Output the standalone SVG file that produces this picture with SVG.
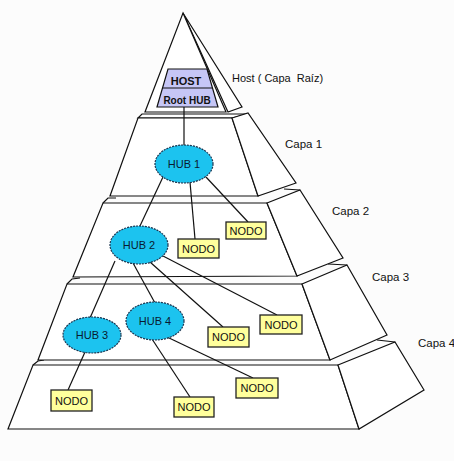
<svg xmlns="http://www.w3.org/2000/svg" width="454" height="461" viewBox="0 0 454 461">
<style>
.slab{fill:#ffffff;stroke:#111;stroke-width:1.2;stroke-linejoin:miter}
.ln{fill:none;stroke:#111;stroke-width:1.2}
.hub{fill:#1cc3ef;stroke:#1a3550;stroke-width:1.2;stroke-dasharray:2 1}
.nodo{fill:#ffff9c;stroke:#222;stroke-width:1.3}
.t{font-family:"Liberation Sans",Arial,sans-serif;fill:#111}
.nt{font-family:"Liberation Sans",Arial,sans-serif;font-size:11px;fill:#111;text-anchor:middle}
.ht{font-family:"Liberation Sans",Arial,sans-serif;font-size:11px;fill:#0a1a30;text-anchor:middle}
</style>
<rect width="454" height="461" fill="#fcfcfc"/>

<g id="slab4">
<polygon class="slab" points="33,365 338,365 359,429 8,429"/>
<polygon class="slab" points="338,365 395,342 424,390 359,429"/>
<polyline class="ln" points="33,365 38,361 44,360"/>
<polyline class="ln" points="377,340 395,342"/>
</g>
<g id="slab3">
<polygon class="slab" points="67,284 302,284 330,360 38,360"/>
<polygon class="slab" points="302,284 347,265 387,335 330,360"/>
<polyline class="ln" points="67,284 72,279 80,278"/>
<polyline class="ln" points="328,264 347,265"/>
</g>
<g id="slab2">
<polygon class="slab" points="103,203 267,203 297,276 73,277"/>
<polygon class="slab" points="267,203 300,190 343,258 297,276"/>
<polyline class="ln" points="103,203 108,198 116,198"/>
<polyline class="ln" points="284,189 300,190"/>
</g>
<g id="slab1">
<polygon class="slab" points="142,114 248,114 232,118 138,118"/>
<polygon class="slab" points="138,118 232,118 258,196 110,196"/>
<polygon class="slab" points="232,118 248,113 296,183 258,196"/>
</g>
<g id="cap">
<polygon class="slab" points="183,13 242,107 228,112"/>
<polygon class="slab" points="183,13 226,112 145,112"/>
</g>

<g id="connectors">
<line class="ln" x1="184" y1="107" x2="184" y2="146"/>
<line class="ln" x1="163" y1="177" x2="139" y2="228"/>
<line class="ln" x1="190" y1="182" x2="195" y2="239"/>
<line class="ln" x1="206" y1="177" x2="248" y2="222"/>
<line class="ln" x1="115" y1="261" x2="90" y2="318"/>
<line class="ln" x1="133" y1="263" x2="155" y2="303"/>
<line class="ln" x1="150" y1="262" x2="223" y2="327"/>
<line class="ln" x1="163" y1="256" x2="277" y2="315"/>
<line class="ln" x1="85" y1="352" x2="68" y2="390"/>
<line class="ln" x1="152" y1="339" x2="190" y2="397"/>
<line class="ln" x1="167" y1="337" x2="253" y2="378"/>
</g>

<g id="host">
<polygon points="168,69 207,69 218,107 157,107" fill="#c6c6f6" stroke="#111" stroke-width="1.2"/>
<line class="ln" x1="163" y1="88" x2="212" y2="88"/>
<text class="t" x="186" y="85" font-size="11" font-weight="bold" text-anchor="middle">HOST</text>
<text class="t" x="187" y="104" font-size="10" font-weight="bold" text-anchor="middle">Root HUB</text>
</g>

<g id="hub1"><ellipse class="hub" cx="184" cy="164" rx="29" ry="19"/><text class="ht" x="184" y="168">HUB 1</text></g>
<g id="hub2"><ellipse class="hub" cx="139" cy="245" rx="29" ry="19"/><text class="ht" x="139" y="249">HUB 2</text></g>
<g id="hub3"><ellipse class="hub" cx="92" cy="335" rx="29" ry="18"/><text class="ht" x="92" y="339">HUB 3</text></g>
<g id="hub4"><ellipse class="hub" cx="155" cy="321" rx="29" ry="19"/><text class="ht" x="155" y="325">HUB 4</text></g>

<g id="nodo1"><rect class="nodo" x="226" y="222" width="40" height="17"/><text class="nt" x="246" y="235">NODO</text></g>
<g id="nodo2"><rect class="nodo" x="178" y="239" width="41" height="19"/><text class="nt" x="198.5" y="252.5">NODO</text></g>
<g id="nodo3"><rect class="nodo" x="208" y="327" width="41" height="20"/><text class="nt" x="228.5" y="341">NODO</text></g>
<g id="nodo4"><rect class="nodo" x="260" y="315" width="42" height="19"/><text class="nt" x="281" y="328.5">NODO</text></g>
<g id="nodo5"><rect class="nodo" x="51" y="390" width="41" height="21"/><text class="nt" x="71.5" y="404.5">NODO</text></g>
<g id="nodo6"><rect class="nodo" x="174" y="397" width="40" height="20"/><text class="nt" x="194" y="411">NODO</text></g>
<g id="nodo7"><rect class="nodo" x="236" y="378" width="42" height="20"/><text class="nt" x="257" y="392">NODO</text></g>

<g id="labels">
<text class="t" x="232" y="82" font-size="11" xml:space="preserve">Host ( Capa  Raíz)</text>
<text class="t" x="285" y="148" font-size="11.5">Capa 1</text>
<text class="t" x="332" y="215" font-size="11.5">Capa 2</text>
<text class="t" x="372" y="281" font-size="11.5">Capa 3</text>
<text class="t" x="418" y="347" font-size="11.5">Capa 4</text>
</g>
</svg>
